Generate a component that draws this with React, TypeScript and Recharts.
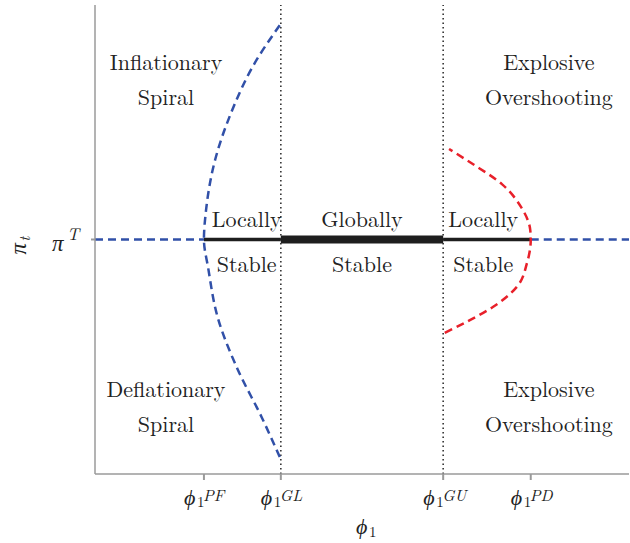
import React from 'react';
import {
  ComposedChart,
  Line,
  Scatter,
  XAxis,
  YAxis,
  ReferenceLine,
} from 'recharts';

// ---- Data ----
const PI_TARGET = 50;
const xDomain = [0, 100];
const yDomain = [0, 100];

const tickValues = [20.4, 34.8, 65.2, 81.6];
const tickSuperscripts = ['PF', 'GL', 'GU', 'PD'];

// Boundary of blue (φ^PF) region, ordered by π from bottom to top
const blueCurveX = [34.6, 31.3, 26.6, 23.0, 21.2, 20.4, 20.8, 22.5, 25.7, 29.6, 34.6];
const blueCurveY = [3.6, 11.9, 22.6, 33.3, 43.9, 50, 56.3, 67.0, 77.6, 87.0, 95.7];

// Boundary of red (φ^PD) region, ordered by π from bottom to top
const redCurveX = [65.5, 70.2, 74.5, 79.0, 80.9, 81.6, 81.5, 79.8, 76.2, 70.6, 66.3];
const redCurveY = [30.1, 32.8, 35.6, 39.9, 45.0, 50, 52.1, 56.9, 61.8, 66.2, 69.3];

// Annotation labels
const annotationText = [
  'Inflationary', 'Spiral', 'Explosive', 'Overshooting',
  'Locally', 'Stable', 'Globally', 'Stable', 'Locally', 'Stable',
  'Deflationary', 'Spiral', 'Explosive', 'Overshooting',
];
const annotationX = [13.3, 13.3, 85.0, 85.0, 28.4, 28.4, 50.0, 50.0, 72.7, 72.7, 13.3, 13.3, 85.0, 85.0];
const annotationY = [86.1, 78.7, 86.1, 78.7, 52.7, 43.1, 52.7, 43.1, 52.7, 43.1, 16.4, 9.0, 16.4, 9.0];

// ---- Derived series ----
const blueCurve = blueCurveX.map((x, i) => ({ x, y: blueCurveY[i] }));
const redCurve = redCurveX.map((x, i) => ({ x, y: redCurveY[i] }));
const blueLeft = [{ x: xDomain[0], y: PI_TARGET }, { x: tickValues[0], y: PI_TARGET }];
const locallyLeft = [{ x: tickValues[0], y: PI_TARGET }, { x: tickValues[1], y: PI_TARGET }];
const globally = [{ x: tickValues[1], y: PI_TARGET }, { x: tickValues[2], y: PI_TARGET }];
const locallyRight = [{ x: tickValues[2], y: PI_TARGET }, { x: tickValues[3], y: PI_TARGET }];
const blueRight = [{ x: tickValues[3], y: PI_TARGET }, { x: xDomain[1], y: PI_TARGET }];
const annotations = annotationText.map((label, i) => ({ x: annotationX[i], y: annotationY[i], label }));

const FONT = 'Latin Modern Roman';
const TEXT = '#222';
const AXIS = '#9a9a9a';
const BLUE = '#3150a8';
const RED = '#e8202a';
const BLACK = '#1e1e1e';

const tStyle = (size: number, italic = false): React.CSSProperties => ({
  fontFamily: FONT,
  fontSize: size,
  fontStyle: italic ? 'italic' : 'normal',
  fill: TEXT,
});

const PhiTick = (props: any) => {
  const { x, y, payload } = props;
  const idx = tickValues.indexOf(payload.value);
  const sup = tickSuperscripts[idx] ?? '';
  const base = y + 23;
  return (
    <text style={tStyle(22)}>
      <tspan x={x - 20} y={base} style={{ fontStyle: 'italic', fontSize: 22, fontWeight: 300 }}>ϕ</tspan>
      <tspan x={x - 7} y={base + 2} style={{ fontSize: 15 }}>1</tspan>
      <tspan x={x - 1} y={base - 4} style={{ fontStyle: 'italic', fontSize: 16 }}>{sup}</tspan>
    </text>
  );
};

const PiTick = (props: any) => {
  const { x, y } = props;
  return (
    <text style={tStyle(23, true)}>
      <tspan x={x - 37} y={y + 11}>π</tspan>
      <tspan x={x - 22} y={y} style={{ fontSize: 17 }}>T</tspan>
    </text>
  );
};

const XLabel = (props: any) => {
  const vb = props.viewBox || { x: 95, y: 474, width: 534, height: 69 };
  const cx = vb.x + vb.width / 2;
  const base = vb.y + 60;
  return (
    <text style={tStyle(22)}>
      <tspan x={cx - 6} y={base} style={{ fontStyle: 'italic' }}>ϕ</tspan>
      <tspan x={cx + 7} y={base + 3} style={{ fontSize: 15 }}>1</tspan>
    </text>
  );
};

const YLabel = (props: any) => {
  const vb = props.viewBox || { x: 0, y: 5, width: 95, height: 469 };
  const cy = vb.y + vb.height / 2 + 4;
  const cx = 26;
  return (
    <g transform={`rotate(-90, ${cx}, ${cy})`}>
      <text style={tStyle(23, true)}>
        <tspan x={cx - 11} y={cy}>π</tspan>
        <tspan x={cx + 2} y={cy + 4} style={{ fontSize: 15 }}>t</tspan>
      </text>
    </g>
  );
};

const AnnotationShape = (p: any) => (
  <text x={p.cx} y={p.cy} textAnchor="middle" style={tStyle(22)}>
    {p.payload.label}
  </text>
);

export default function App() {
  return (
    <div style={{ position: 'absolute', left: 0, top: 0, width: 630, height: 543, background: '#fff' }}>
      <ComposedChart width={630} height={543} margin={{ top: 5, right: 1, bottom: 0, left: 0 }}>
        <XAxis
          type="number"
          dataKey="x"
          domain={xDomain}
          ticks={tickValues}
          interval={0}
          allowDataOverflow
          height={69}
          tickSize={6}
          axisLine={{ stroke: AXIS, strokeWidth: 1.5 }}
          tickLine={{ stroke: AXIS, strokeWidth: 2 }}
          tick={<PhiTick />}
          label={<XLabel />}
        />
        <YAxis
          type="number"
          dataKey="y"
          domain={yDomain}
          ticks={[PI_TARGET]}
          interval={0}
          allowDataOverflow
          width={95}
          tickSize={4}
          axisLine={{ stroke: AXIS, strokeWidth: 1.5 }}
          tickLine={{ stroke: AXIS, strokeWidth: 2 }}
          tick={<PiTick />}
          label={<YLabel />}
        />
        <ReferenceLine x={tickValues[1]} stroke="#333" strokeWidth={1.6} strokeDasharray="1.6 2.9" />
        <ReferenceLine x={tickValues[2]} stroke="#333" strokeWidth={1.6} strokeDasharray="1.6 2.9" />
        <Line data={blueLeft} dataKey="y" type="linear" stroke={BLUE} strokeWidth={2.5} strokeDasharray="8 5" dot={false} activeDot={false} isAnimationActive={false} />
        <Line data={blueRight} dataKey="y" type="linear" stroke={BLUE} strokeWidth={2.5} strokeDasharray="8 5" dot={false} activeDot={false} isAnimationActive={false} />
        <Line data={locallyLeft} dataKey="y" type="linear" stroke={BLACK} strokeWidth={3.5} dot={false} activeDot={false} isAnimationActive={false} />
        <Line data={locallyRight} dataKey="y" type="linear" stroke={BLACK} strokeWidth={3.5} dot={false} activeDot={false} isAnimationActive={false} />
        <Line data={globally} dataKey="y" type="linear" stroke={BLACK} strokeWidth={8} dot={false} activeDot={false} isAnimationActive={false} />
        <Line data={blueCurve} dataKey="y" type="monotoneY" stroke={BLUE} strokeWidth={2.5} strokeDasharray="8 5" dot={false} activeDot={false} isAnimationActive={false} />
        <Line data={redCurve} dataKey="y" type="monotoneY" stroke={RED} strokeWidth={2.5} strokeDasharray="8 5" dot={false} activeDot={false} isAnimationActive={false} />
        <Scatter data={annotations} dataKey="y" shape={AnnotationShape} isAnimationActive={false} />
      </ComposedChart>
    </div>
  );
}
